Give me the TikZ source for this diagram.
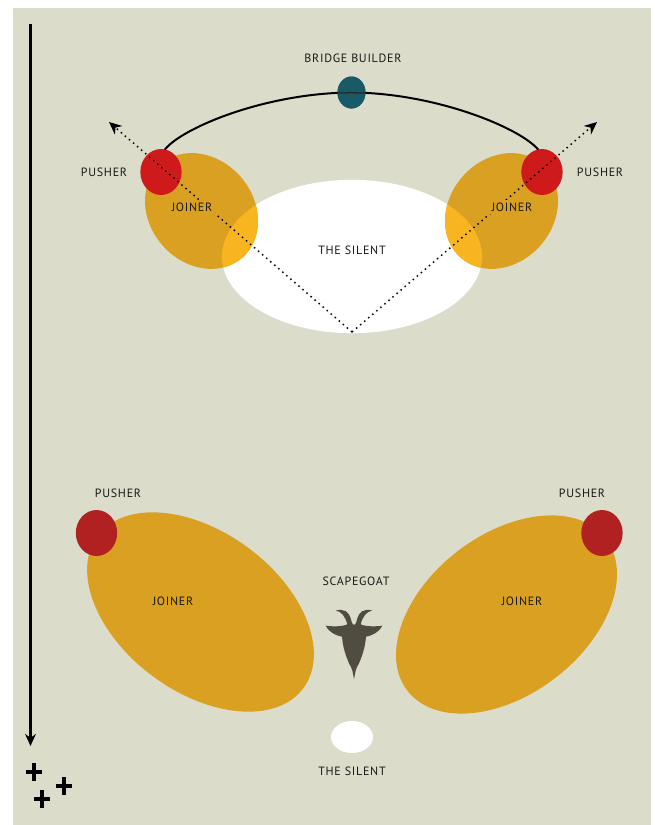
\documentclass[tikz,border=0pt]{standalone}
\usepackage{fontspec}
\setmainfont[LetterSpace=6]{PT Sans}
\usetikzlibrary{shapes.geometric,arrows.meta}
\definecolor{bgc}{RGB}{220,220,203}
\definecolor{joinc}{RGB}{218,160,34}
\definecolor{overc}{RGB}{249,181,31}
\definecolor{redc}{RGB}{206,26,27}
\definecolor{darkred}{RGB}{178,33,34}
\definecolor{tealc}{RGB}{26,90,102}
\definecolor{goatc}{RGB}{81,76,65}
\definecolor{txtc}{RGB}{25,25,22}
\tikzset{
  blob/.style={ellipse,inner sep=0pt,outer sep=0pt,draw=none},
  smalljoiner/.style={blob,minimum width=93pt,minimum height=78pt},
  silentbig/.style={blob,fill=white,minimum width=195pt,minimum height=115pt},
  pusherdot/.style={blob,minimum width=31pt,minimum height=34.5pt},
  lbl/.style={text=txtc,font=\fontsize{9}{11}\selectfont,inner sep=0pt},
  lblfill/.style={lbl,fill=joinc,inner sep=2pt},
  dots/.style={line width=1.1pt,dash pattern=on 1.1pt off 2.9pt,-{Stealth[length=9.5pt,width=8.5pt]}},
  plusmark/.style={line width=2.6pt}
}
\begin{document}
\begin{tikzpicture}[x=0.75pt,y=-0.75pt]
\useasboundingbox (0,0) rectangle (654,825);
\fill[bgc] (13,8) rectangle (651,825);
% axis
\coordinate (axisTop) at (30.5,24);
\coordinate (axisEnd) at (30.5,746);
\draw[line width=1.8pt,-{Stealth[length=9pt,width=8pt]}] (axisTop) -- (axisEnd);
\foreach \px/\py in {34/772,64/786,42/799}{
  \draw[plusmark] (\px-8,\py) -- (\px+8,\py) (\px,\py-9) -- (\px,\py+9);
}
% top group
\node[silentbig] (silent) at (352,256.5) {};
\node[smalljoiner,fill=joinc,rotate=-49] (jl) at (201.5,211) {};
\node[smalljoiner,fill=joinc,rotate=49] (jr) at (501.5,211) {};
\begin{scope}
  \clip (352,256.5) ellipse [x radius=97.5pt,y radius=57.5pt];
  \node[smalljoiner,fill=overc,rotate=-49] at (201.5,211) {};
  \node[smalljoiner,fill=overc,rotate=49] at (501.5,211) {};
\end{scope}
\node[pusherdot,fill=redc] (pl) at (161,172) {};
\node[pusherdot,fill=redc] (pr) at (542,172) {};
\node[blob,fill=tealc,minimum width=21pt,minimum height=24pt] (bridge) at (351.5,92.5) {};
\draw[line width=1.5pt,line cap=round] (pl.80) .. controls (182,128) and (265,93) .. (bridge.center)
   .. controls (436,93) and (520,128) .. (pr.100);
\node[blob,fill=tealc,minimum width=21pt,minimum height=24pt] at (351.5,92.5) {};
\draw[line width=1pt,black!85] (bridge.west) .. controls (340,93.5) and (346,93) .. (bridge.center)
   .. controls (357,93) and (362,93.5) .. (bridge.east);
\coordinate (apex) at (352,332);
\coordinate (tipL) at (109,122);
\coordinate (tipR) at (597,122);
\draw[dots] (apex) -- (tipL);
\draw[dots] (apex) -- (tipR);
\node[lblfill] (tjl) at (192,207) {JOINER};
\node[lblfill] (tjr) at (512,207) {JOINER};
\node[lbl] (tsil) at (352,250) {THE SILENT};
\node[lbl] (tbr) at (353,58) {BRIDGE BUILDER};
\node[lbl] (tpl) at (104,172) {PUSHER};
\node[lbl] (tpr) at (600,172) {PUSHER};
% bottom group
\node[blob,fill=joinc,minimum width=192pt,minimum height=120pt,rotate=-36.5] (bjl) at (200.5,612) {};
\node[blob,fill=joinc,minimum width=187.5pt,minimum height=120pt,rotate=37.5] (bjr) at (506.5,614.5) {};
\node[pusherdot,fill=darkred] (bpl) at (96.5,533) {};
\node[pusherdot,fill=darkred] (bpr) at (602,533) {};
\node[blob,fill=white,minimum width=31.5pt,minimum height=24pt] (ssil) at (352,737) {};
\node[lbl] at (118,493) {PUSHER};
\node[lbl] at (582,493) {PUSHER};
\node[lbl] at (173,601) {JOINER};
\node[lbl] at (522,601) {JOINER};
\node[lbl] at (356,581) {SCAPEGOAT};
\node[lbl] at (352,771) {THE SILENT};
% goat
\begin{scope}[shift={(354,560)},x=0.25pt,y=-0.25pt]
\fill[goatc] (0,195)
  .. controls (4,195) and (6,190) .. (10,175)
  .. controls (14,158) and (30,143) .. (55,152)
  .. controls (38,153) and (26,170) .. (20,193)
  .. controls (35,200) and (65,200) .. (85,197)
  .. controls (80,210) and (60,226) .. (36,230)
  .. controls (34,260) and (24,290) .. (14,312)
  .. controls (10,320) and (6,325) .. (5,332)
  -- (0,357) -- (-5,332)
  .. controls (-6,325) and (-10,320) .. (-14,312)
  .. controls (-24,290) and (-34,260) .. (-36,230)
  .. controls (-60,226) and (-80,210) .. (-85,197)
  .. controls (-65,200) and (-35,200) .. (-20,193)
  .. controls (-26,170) and (-38,153) .. (-55,152)
  .. controls (-30,143) and (-14,158) .. (-10,175)
  .. controls (-6,190) and (-4,195) .. (0,195) -- cycle;
\end{scope}
\end{tikzpicture}
\end{document}
